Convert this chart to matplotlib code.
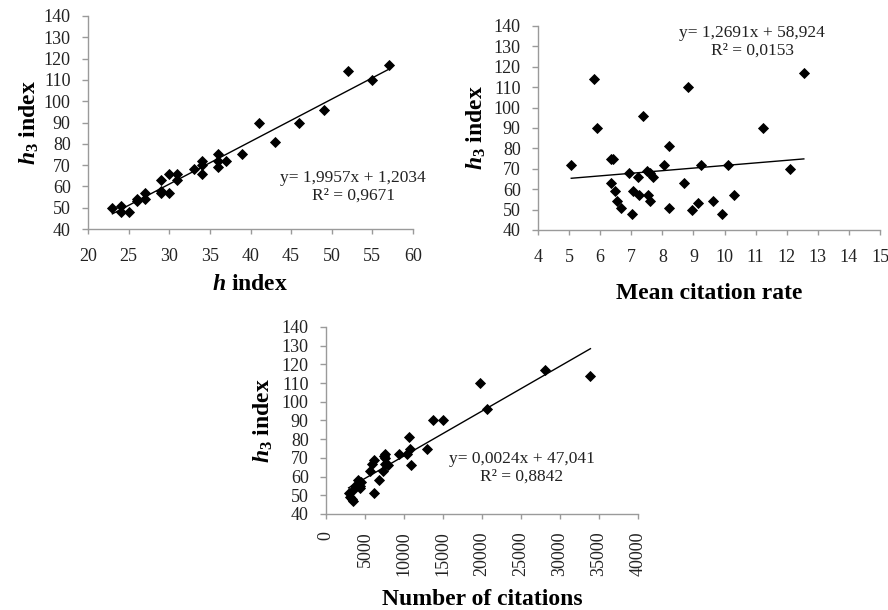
import matplotlib
matplotlib.use("Agg")
import matplotlib.pyplot as plt
import numpy as np

# ---------------- data ----------------
h_index = [23, 24, 24, 25, 26, 26, 27, 27, 29, 29, 29, 30, 30, 31, 31, 33, 34, 34, 34,
           36, 36, 36, 37, 39, 41, 43, 46, 49, 52, 55, 57]
h3_a = [50, 51, 48, 48, 54, 53, 57, 54, 63, 58, 57, 66, 57, 66, 63, 68, 72, 70, 66,
        75, 72, 69, 72, 75, 90, 81, 90, 96, 114, 110, 117]

mean_cit = [5.07, 5.8, 5.9, 6.34, 6.42, 6.34, 6.48, 6.55, 6.66, 6.94, 7.01, 7.04, 7.23,
            7.26, 7.37, 7.5, 7.55, 7.59, 7.6, 7.69, 8.05, 8.22, 8.22, 8.69, 8.81, 8.96,
            9.15, 9.24, 9.62, 9.91, 10.12, 10.3, 11.25, 12.1, 12.55]
h3_b = [72, 114, 90, 75, 75, 63, 59, 54, 51, 68, 48, 59, 66,
        57, 96, 69, 57, 68, 54, 66, 72, 81, 51, 63, 110, 50,
        53, 72, 54, 48, 72, 57, 90, 70, 117]

n_cit = [2900, 3100, 3300, 3400, 3500, 3700, 4100, 4300, 4400, 4500, 5700, 5900, 6100,
         6150, 6800, 7300, 7500, 7500, 7600, 8000, 7400, 9300, 10400, 10700, 10800, 10900,
         13000, 13700, 15000, 19700, 20700, 28100, 33900]
h3_c = [51, 49, 48, 53, 47, 55, 58, 54, 55, 57, 63, 67, 69,
        51, 58, 63, 72, 70, 67, 66, 71, 72, 72, 81, 75, 66,
        75, 90, 90, 110, 96, 117, 114]

slopes = [1.9957, 1.2691, 0.0024]
intercepts = [1.2034, 58.924, 47.041]
eq_texts = ["y= 1,9957x + 1,2034\nR\u00b2 = 0,9671",
            "y= 1,2691x + 58,924\nR\u00b2 = 0,0153",
            "y= 0,0024x + 47,041\nR\u00b2 = 0,8842"]
x_labels = [r"$h$ index", "Mean citation rate", "Number of citations"]
y_label = r"$h_{\mathit{3}}$ index"

# ---------------- style ----------------
plt.rcParams['font.family'] = ['Liberation Serif', 'DejaVu Serif']
plt.rcParams['mathtext.fontset'] = 'custom'
plt.rcParams['mathtext.it'] = 'Liberation Serif:italic:bold'
plt.rcParams['mathtext.rm'] = 'Liberation Serif:bold'
plt.rcParams['mathtext.bf'] = 'Liberation Serif:bold'

fig = plt.figure(figsize=(8.88, 6.10), dpi=100)

axes_pos = [
    [88 / 888, 1 - 229 / 610, 325 / 888, 213 / 610],
    [538 / 888, 1 - 230 / 610, 342 / 888, 204 / 610],
    [326 / 888, 1 - 514 / 610, 312 / 888, 187 / 610],
]
xs = [h_index, mean_cit, n_cit]
ys = [h3_a, h3_b, h3_c]
xlims = [(20, 60), (4, 15), (0, 40000)]
xticks = [np.arange(20, 61, 5), np.arange(4, 16, 1), np.arange(0, 40001, 5000)]
eq_pos = [(353 / 888, 1 - 187 / 610), (752 / 888, 1 - 42 / 610), (522 / 888, 1 - 468 / 610)]
xpads = [10.5, 10.5, 9]
xlabelpads = [6, 12, 9]
ylabelpads = [2, 4, 5]

spine_col = '#9a9a9a'
for i in range(3):
    ax = fig.add_axes(axes_pos[i])
    x = np.array(xs[i], dtype=float)
    y = np.array(ys[i], dtype=float)
    ax.plot(x, y, linestyle='none', marker='D', color='black', markersize=4.8,
            markeredgewidth=0.6, zorder=3)
    xl = np.array([x.min(), x.max()])
    ax.plot(xl, slopes[i] * xl + intercepts[i], color='black', lw=1.0, zorder=2)
    ax.set_xlim(*xlims[i])
    ax.set_ylim(40, 140)
    ax.set_xticks(xticks[i])
    ax.set_yticks(np.arange(40, 141, 10))
    for s in ['top', 'right']:
        ax.spines[s].set_visible(False)
    for s in ['left', 'bottom']:
        ax.spines[s].set_color(spine_col)
        ax.spines[s].set_linewidth(1.0)
    ax.tick_params(axis='both', direction='out', width=1.0, color=spine_col,
                   labelsize=13, labelcolor='#222222')
    ax.tick_params(axis='x', length=3.5, pad=xpads[i])
    ax.tick_params(axis='y', length=4.5, pad=8)
    if i == 2:
        ax.tick_params(axis='x', labelrotation=90)
    ax.set_xlabel(x_labels[i], fontsize=17, fontweight='bold', labelpad=xlabelpads[i])
    ax.set_ylabel(y_label, fontsize=17, fontweight='bold', labelpad=ylabelpads[i])
    fig.text(eq_pos[i][0], eq_pos[i][1], eq_texts[i], ha='center', va='center',
             fontsize=12.5, linespacing=1.1, color='#222222')

fig.savefig("out.png", dpi=100, facecolor='white')
